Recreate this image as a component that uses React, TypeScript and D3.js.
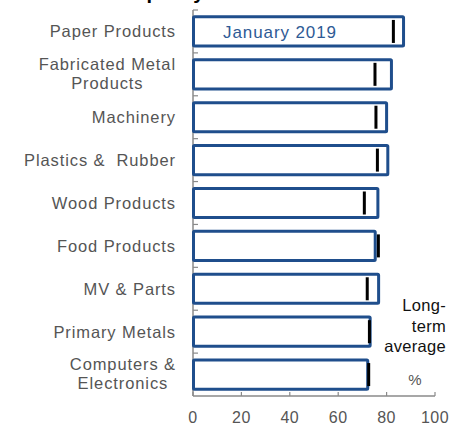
import React from "react";
import * as d3 from "d3";

const categories = [
  ["Paper Products"],
  ["Fabricated Metal", "Products"],
  ["Machinery"],
  ["Plastics &  Rubber"],
  ["Wood Products"],
  ["Food Products"],
  ["MV & Parts"],
  ["Primary Metals"],
  ["Computers &", "Electronics"],
];
const jan2019 = [87, 82, 80, 80.5, 76.4, 75.3, 76.7, 73.2, 72.2];
const longTermAvg = [82.8, 75.2, 75.6, 76.2, 70.8, 76.6, 72, 72.9, 72.6];
const xTicks = [0, 20, 40, 60, 80, 100];

const W = 467;
const H = 426;
const FONT = "Liberation Sans, Arial, sans-serif";
const LS = 0.9;
const FS = 16.5;

function measure(text: string, size: number) {
  if (typeof document === "undefined") return text.length * size * 0.55;
  const c = document.createElement("canvas").getContext("2d");
  if (!c) return text.length * size * 0.55;
  c.font = `${size}px ${FONT}`;
  return c.measureText(text).width + LS * text.length;
}

export default function App() {
  const keys = categories.map((c) => c.join(" "));
  const x = d3.scaleLinear().domain([0, 100]).range([193, 435]);
  const y = d3
    .scaleBand<string>()
    .domain(keys)
    .range([10, 396])
    .paddingInner(0.25)
    .paddingOuter(0.125);
  const step = y.step();
  const boundaries = keys.map((_, i) => 10 + i * step);
  const labelRight = 176;

  return (
    <svg
      width={W}
      height={H}
      style={{ position: "absolute", left: 0, top: 0, background: "#fff" }}
      fontFamily={FONT}
    >
      <text x={121} y={-1} fontSize={20} fontWeight="bold" fill="#000">
        Capacity
      </text>
      {/* y axis */}
      <line x1={x(0)} x2={x(0)} y1={10} y2={396} stroke="#8a8a8a" strokeWidth={1.5} />
      {boundaries.map((b, i) => (
        <line key={i} x1={x(0)} x2={x(0) + 5} y1={b} y2={b} stroke="#8a8a8a" strokeWidth={1.2} />
      ))}
      {/* bars */}
      {keys.map((k, i) => (
        <g key={k}>
          <rect
            x={x(0) + 0.5}
            y={(y(k) as number) + 1.5}
            width={x(jan2019[i]) - x(0) - 0.5}
            height={y.bandwidth() - 3}
            fill="#fff"
            stroke="#1f4e8c"
            strokeWidth={3}
            rx={1}
          />
          <rect
            x={x(longTermAvg[i]) - 1.5}
            y={(y(k) as number) + y.bandwidth() / 2 - 11.5}
            width={3}
            height={23}
            fill="#000"
          />
        </g>
      ))}
      {/* category labels */}
      {categories.map((lines, i) => {
        const cy = (y(keys[i]) as number) + y.bandwidth() / 2;
        if (lines.length === 1) {
          return (
            <text
              key={i}
              x={labelRight}
              y={cy}
              dy="0.36em"
              textAnchor="end"
              fontSize={FS}
              letterSpacing={LS}
              fill="#555"
              style={{ whiteSpace: "pre" }}
            >
              {lines[0]}
            </text>
          );
        }
        const wmax = Math.max(...lines.map((l) => measure(l, FS)));
        const cx = labelRight - wmax / 2;
        return (
          <text key={i} textAnchor="middle" fontSize={FS} letterSpacing={LS} fill="#555">
            {lines.map((l, j) => (
              <tspan key={j} x={cx} y={cy + (j - 0.5) * 19 - 1} dy="0.36em">
                {l}
              </tspan>
            ))}
          </text>
        );
      })}
      <text
        x={280}
        y={(y(keys[0]) as number) + y.bandwidth() / 2}
        dy="0.36em"
        textAnchor="middle"
        fontSize={17}
        letterSpacing={0.9}
        fill="#2e5a95"
      >
        January 2019
      </text>
      {/* x axis */}
      <line x1={x(0)} x2={x(100)} y1={396} y2={396} stroke="#8a8a8a" strokeWidth={1.5} />
      {xTicks.map((t) => (
        <g key={t}>
          <line x1={x(t)} x2={x(t)} y1={396} y2={392} stroke="#8a8a8a" strokeWidth={1.2} />
          <text
            x={x(t)}
            y={417}
            dy="0.36em"
            textAnchor="middle"
            fontSize={16}
            letterSpacing={0.5}
            fill="#555"
          >
            {t}
          </text>
        </g>
      ))}
      {/* legend text */}
      <text textAnchor="end" fontSize={16.5} fill="#111" letterSpacing={0.3}>
        <tspan x={446} y={305} dy="0.36em">Long-</tspan>
        <tspan x={446} y={326} dy="0.36em">term</tspan>
        <tspan x={446} y={346} dy="0.36em">average</tspan>
      </text>
      <text x={415} y={380} dy="0.36em" textAnchor="middle" fontSize={15} fill="#555">
        %
      </text>
    </svg>
  );
}
